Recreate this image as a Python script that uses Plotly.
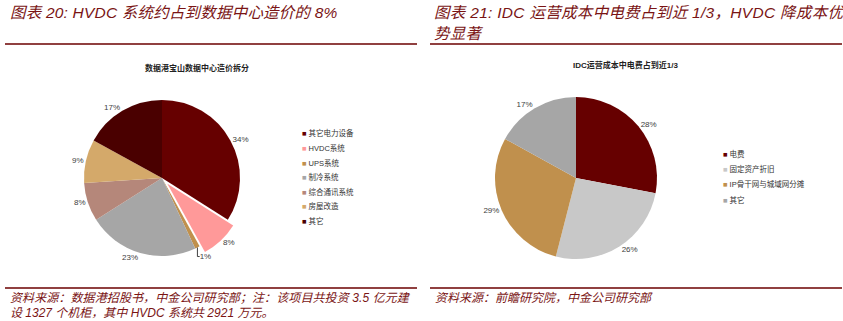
import plotly.graph_objects as go

W, H = 843, 321

# ---- data ----
left_title = "数据港宝山数据中心造价拆分"
left_labels = ["其它电力设备", "HVDC系统", "UPS系统", "制冷系统", "综合通讯系统", "房屋改造", "其它"]
left_values = [34, 8, 1, 23, 8, 9, 17]
left_colors = ["#660000", "#FF9999", "#C0904D", "#A6A6A6", "#B5877A", "#D4A96A", "#4A0000"]
left_pull = [0, 0.1, 0, 0, 0, 0, 0]

right_title = "IDC运营成本中电费占到近1/3"
right_labels = ["电费", "固定资产折旧", "IP骨干网与城域网分摊", "其它"]
right_values = [28, 26, 29, 17]
right_colors = ["#660000", "#C8C8C8", "#C0904D", "#A6A6A6"]

head_left = "图表 20: HVDC 系统约占到数据中心造价的 8%"
head_right = ["图表 21: IDC 运营成本中电费占到近 1/3，HVDC 降成本优", "势显著"]
src_left = ["资料来源：数据港招股书，中金公司研究部；注：该项目共投资 3.5 亿元建",
            "设 1327 个机柜，其中 HVDC 系统共 2921 万元。"]
src_right = ["资料来源：前瞻研究院，中金公司研究部"]

RED = "#7A1414"
LINE = "#6B0000"
LAT = "Liberation Sans, Noto Sans CJK SC"


def px(x):
    return x / W


def py(y):
    return 1 - y / H


def dom(cx, cy, side):
    h = side / 2
    return dict(x=[px(cx - h), px(cx + h)], y=[py(cy + h), py(cy - h)])


fig = go.Figure()

fig.add_trace(go.Pie(
    labels=left_labels, values=left_values, sort=False, direction="clockwise",
    marker=dict(colors=left_colors, line=dict(color="white", width=0)),
    pull=left_pull, textinfo="percent", textposition="outside",
    textfont=dict(size=8, color="#404040", family=LAT),
    domain=dom(162, 178, 78 * 2.2), showlegend=False, hoverinfo="skip",
    automargin=False,
))
fig.add_trace(go.Pie(
    labels=right_labels, values=right_values, sort=False, direction="clockwise",
    marker=dict(colors=right_colors, line=dict(color="white", width=0)),
    textinfo="percent", textposition="outside",
    textfont=dict(size=8, color="#404040", family=LAT),
    domain=dom(576, 178, 81 * 2), showlegend=False, hoverinfo="skip",
    automargin=False,
))


def sp(t, ls):
    return f"<span style='letter-spacing:{ls}px'>{t}</span>" if ls else t


ann = []
# headings
ann.append(dict(x=px(8), y=py(12), text="<i>" + sp(head_left, 0.2) + "</i>", xanchor="left", yanchor="middle",
                font=dict(size=15.5, color=RED, family=LAT)))
for i, (t, ls) in enumerate(zip(head_right, [0.3, 0.2])):
    ann.append(dict(x=px(432), y=py(12 + 21 * i), text="<i>" + sp(t, ls) + "</i>", xanchor="left", yanchor="middle",
                    font=dict(size=15.5, color=RED, family=LAT)))
# sources
for i, (t, ls) in enumerate(zip(src_left, [0.1, 0])):
    ann.append(dict(x=px(8), y=py(298 + 15 * i), text="<i>" + sp(t, ls) + "</i>", xanchor="left", yanchor="middle",
                    font=dict(size=12, color=RED, family=LAT)))
for i, t in enumerate(src_right):
    ann.append(dict(x=px(433), y=py(298 + 15 * i), text="<i>" + t + "</i>", xanchor="left", yanchor="middle",
                    font=dict(size=12, color=RED, family=LAT)))
# chart titles
ann.append(dict(x=px(197), y=py(68), text="<b>" + left_title + "</b>", xanchor="center", yanchor="middle",
                font=dict(size=8, color="#222222", family=LAT)))
ann.append(dict(x=px(625), y=py(65), text="<b>" + right_title + "</b>", xanchor="center", yanchor="middle",
                font=dict(size=8, color="#222222", family=LAT)))
# legends
for i, (lab, c) in enumerate(zip(left_labels, left_colors)):
    ann.append(dict(x=px(300), y=py(133.3 + 14.6 * i),
                    text=f"<span style='color:{c}'>■</span> {lab}", xanchor="left", yanchor="middle",
                    font=dict(size=7.5, color="#333333", family=LAT)))
for i, (lab, c) in enumerate(zip(right_labels, right_colors)):
    ann.append(dict(x=px(721), y=py(154 + 15.2 * i),
                    text=f"<span style='color:{c}'>■</span> {lab}", xanchor="left", yanchor="middle",
                    font=dict(size=7.5, color="#333333", family=LAT)))
for a in ann:
    a.update(xref="paper", yref="paper", showarrow=False)

shapes = []
for (x0, x1) in [(5, 417), (430, 842)]:
    for yy in (44, 288):
        shapes.append(dict(type="line", xref="paper", yref="paper",
                           x0=px(x0), x1=px(x1), y0=py(yy), y1=py(yy),
                           line=dict(color=LINE, width=1.5)))

fig.update_layout(
    width=W, height=H, margin=dict(l=0, r=0, t=0, b=0),
    paper_bgcolor="white", plot_bgcolor="white",
    annotations=ann, shapes=shapes, showlegend=False,
)

fig.write_html("out.html")
